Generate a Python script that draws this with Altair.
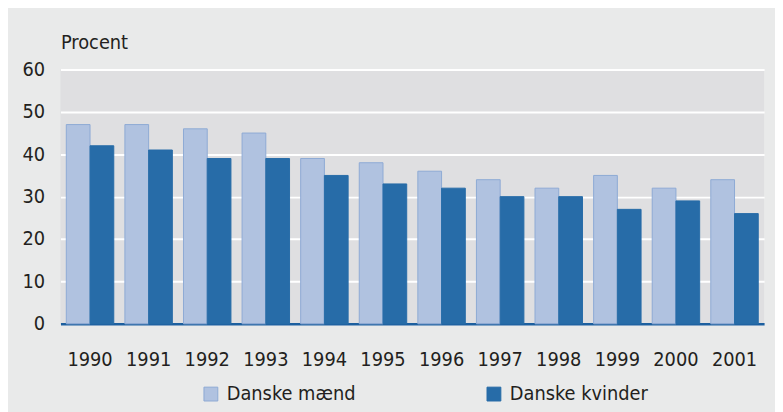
import altair as alt
import pandas as pd

years = [str(y) for y in range(1990, 2002)]
men = [47, 47, 46, 45, 39, 38, 36, 34, 32, 35, 32, 34]
women = [42, 41, 39, 39, 35, 33, 32, 30, 30, 27, 29, 26]
series = ["Danske mænd", "Danske kvinder"]
fills = ["#b0c2e0", "#276ca8"]
strokes = ["#8eaad5", "#276ca8"]
y_ticks = [0, 10, 20, 30, 40, 50, 60]

rows = []
for y, m, w in zip(years, men, women):
    rows.append({"year": y, "serie": series[0], "value": m})
    rows.append({"year": y, "serie": series[1], "value": w})
df = pd.DataFrame(rows)

FONT = "Liberation Sans Narrow, DejaVu Sans Condensed, sans-serif"
TXT = "#231f20"

chart = alt.Chart(df).mark_bar(strokeWidth=1).encode(
    x=alt.X(
        "year:N",
        title=None,
        scale=alt.Scale(paddingInner=0.19, paddingOuter=0.1),
        axis=alt.Axis(
            labelAngle=0, ticks=False, grid=False,
            domainColor="#1c5f9f", domainWidth=2.5,
            labelPadding=36, labelBaseline="middle",
            labelFontSize=20, labelFont=FONT, labelColor=TXT,
        ),
    ),
    xOffset=alt.XOffset("serie:N", sort=series),
    y=alt.Y(
        "value:Q",
        scale=alt.Scale(domain=[0, 60]),
        axis=alt.Axis(
            values=y_ticks, title="Procent", titleAngle=0, titleX=0, titleY=-21,
            titleAlign="left", titleBaseline="alphabetic",
            titleFont=FONT, titleFontSize=20, titleFontWeight="normal", titleColor=TXT,
            ticks=False, domain=False, gridColor="white", gridWidth=2, gridOpacity=1,
            labelPadding=16, labelFontSize=20, labelFont=FONT, labelColor=TXT,
        ),
    ),
    fill=alt.Fill(
        "serie:N", sort=series,
        scale=alt.Scale(domain=series, range=fills),
        legend=alt.Legend(
            title=None, orient="none", direction="horizontal",
            legendX=142, legendY=318,
            symbolType="square", symbolSize=196, symbolStrokeWidth=1,
            labelFontSize=20, labelFont=FONT, labelColor=TXT, labelOffset=6,
            columnPadding=129,
        ),
    ),
    stroke=alt.Stroke(
        "serie:N", sort=series,
        scale=alt.Scale(domain=series, range=strokes),
        legend=None,
    ),
).properties(
    width=711, height=257,
    autosize=alt.AutoSizeParams(type="none"),
    padding={"left": 53, "top": 60, "right": 11, "bottom": 87},
    background="#e9eaea",
).configure_view(fill="#dfdfe1", strokeWidth=0)

chart.save("out.html", embed_options={"renderer": "svg", "actions": False})
